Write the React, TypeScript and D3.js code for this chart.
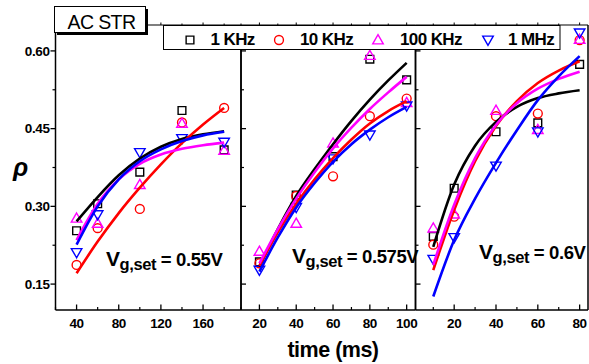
import React from "react";
import * as d3 from "d3";

// ---------- data ----------
const seriesNames = ["1 KHz", "10 KHz", "100 KHz", "1 MHz"];
const panelLabels = ["0.55V", "0.575V", "0.6V"];

// Vg,set = 0.55 V
const t055 = [40, 60, 100, 140, 180];
const p055_1k = [0.253, 0.305, 0.366, 0.485, 0.409];
const p055_10k = [0.187, 0.258, 0.295, 0.462, 0.49];
const p055_100k = [0.277, 0.267, 0.342, 0.46, 0.408];
const p055_1M = [0.211, 0.284, 0.404, 0.431, 0.424];
const fitT055 = [40, 60, 80, 100, 120, 140, 160, 180];
const fit055_1k = [0.271, 0.318, 0.36, 0.392, 0.415, 0.43, 0.439, 0.445];
const fit055_10k = [0.171, 0.232, 0.287, 0.336, 0.381, 0.422, 0.458, 0.49];
const fit055_100k = [0.235, 0.305, 0.352, 0.382, 0.4, 0.411, 0.418, 0.423];
const fit055_1M = [0.226, 0.3, 0.352, 0.387, 0.41, 0.426, 0.437, 0.444];

// Vg,set = 0.575 V
const t0575 = [20, 40, 60, 80, 100];
const p0575_1k = [0.193, 0.322, 0.396, 0.584, 0.544];
const p0575_10k = [0.19, 0.32, 0.358, 0.474, 0.508];
const p0575_100k = [0.213, 0.267, 0.422, 0.591, 0.5];
const p0575_1M = [0.177, 0.298, 0.392, 0.438, 0.494];
const fitT0575 = [20, 30, 40, 50, 60, 70, 80, 90, 100];
const fit0575_1k = [0.184, 0.256, 0.32, 0.372, 0.42, 0.465, 0.506, 0.543, 0.577];
const fit0575_10k = [0.185, 0.25, 0.305, 0.352, 0.393, 0.429, 0.46, 0.484, 0.503];
const fit0575_100k = [0.19, 0.256, 0.315, 0.366, 0.412, 0.452, 0.488, 0.52, 0.55];
const fit0575_1M = [0.174, 0.24, 0.298, 0.345, 0.386, 0.42, 0.448, 0.472, 0.492];

// Vg,set = 0.6 V
const t06 = [10, 20, 40, 60, 80];
const p06_1k = [0.242, 0.335, 0.444, 0.461, 0.574];
const p06_10k = [0.226, 0.28, 0.474, 0.479, 0.621];
const p06_100k = [0.258, 0.285, 0.485, 0.448, 0.622];
const p06_1M = [0.198, 0.24, 0.378, 0.444, 0.635];
const fitT06 = [10, 20, 30, 40, 50, 60, 70, 80];
const fit06_1k = [0.222, 0.342, 0.417, 0.463, 0.492, 0.509, 0.518, 0.524];
const fit06_10k = [0.177, 0.293, 0.387, 0.455, 0.503, 0.538, 0.562, 0.58];
const fit06_100k = [0.187, 0.303, 0.393, 0.457, 0.499, 0.527, 0.546, 0.56];
const fit06_1M = [0.126, 0.235, 0.315, 0.384, 0.447, 0.505, 0.551, 0.59];

const yTicks = [0.15, 0.3, 0.45, 0.6];
const xTicks055 = [40, 80, 120, 160];
const xTicks0575 = [20, 40, 60, 80, 100];
const xTicks06 = [20, 40, 60, 80];

// ---------- layout / style ----------
const W = 589;
const H = 364;
const yTop = 25;
const yBot = 310;
const colors = ["#000000", "#ff0000", "#ff00ff", "#0000ff"];
const FONT = "'Liberation Sans', Arial, sans-serif";

const panels = [
  {
    x0: 55.5, x1: 241, domain: [20, 196], ticks: xTicks055, minorStep: 20,
    t: t055, ys: [p055_1k, p055_10k, p055_100k, p055_1M],
    ft: fitT055, fits: [fit055_1k, fit055_10k, fit055_100k, fit055_1M],
    label: panelLabels[0], lx: 106, ly: 265.5, yLabels: true,
  },
  {
    x0: 241, x1: 415.5, domain: [10, 104.8], ticks: xTicks0575, minorStep: 10,
    t: t0575, ys: [p0575_1k, p0575_10k, p0575_100k, p0575_1M],
    ft: fitT0575, fits: [fit0575_1k, fit0575_10k, fit0575_100k, fit0575_1M],
    label: panelLabels[1], lx: 292, ly: 262.5, yLabels: false,
  },
  {
    x0: 415.5, x1: 588, domain: [1.5, 84], ticks: xTicks06, minorStep: 10,
    t: t06, ys: [p06_1k, p06_10k, p06_100k, p06_1M],
    ft: fitT06, fits: [fit06_1k, fit06_10k, fit06_100k, fit06_1M],
    label: panelLabels[2], lx: 479, ly: 258.5, yLabels: false,
  },
];

const y = d3.scaleLinear().domain([0.1, 0.65]).range([yBot, yTop]);
const yMinor = [0.225, 0.375, 0.525];
const fmt = d3.format(".2f");

function Marker({ kind, x, yv, color }: { kind: number; x: number; yv: number; color: string }) {
  const types = [d3.symbolSquare, d3.symbolCircle, d3.symbolTriangle, d3.symbolTriangle];
  const sizes = [60, 62, 48, 48];
  const path = d3.symbol().type(types[kind]).size(sizes[kind])() as string;
  const rot = kind === 3 ? 180 : 0;
  const dy = kind === 2 ? 0.8 : kind === 3 ? -0.8 : 0;
  return (
    <path
      d={path}
      transform={`translate(${x},${yv + dy}) rotate(${rot})`}
      fill="none"
      stroke={color}
      strokeWidth={1.4}
    />
  );
}

export default function App() {
  return (
    <svg
      width={W}
      height={H}
      style={{ position: "absolute", left: 0, top: 0, background: "#fff" }}
      fontFamily={FONT}
    >
      <rect x={0} y={0} width={W} height={H} fill="#fff" />
      {panels.map((p, pi) => {
        const x = d3.scaleLinear().domain(p.domain).range([p.x0, p.x1]);
        const minor = d3
          .range(Math.ceil(p.domain[0] / p.minorStep) * p.minorStep, p.domain[1], p.minorStep)
          .filter((v) => !p.ticks.includes(v));
        const line = d3
          .line<number>()
          .x((_, i) => x(p.ft[i]))
          .y((d) => y(d))
          .curve(d3.curveMonotoneX);
        return (
          <g key={pi}>
            {/* markers */}
            {p.ys.map((arr, si) =>
              arr.map((v, i) => (
                <Marker key={`${si}-${i}`} kind={si} x={x(p.t[i])} yv={y(v)} color={colors[si]} />
              ))
            )}
            {/* fits */}
            {p.fits.map((arr, si) => (
              <path key={si} d={line(arr) as string} fill="none" stroke={colors[si]} strokeWidth={2.6} />
            ))}
            {/* x axis ticks (inward) */}
            {p.ticks.map((v) => (
              <g key={`xt${v}`}>
                <line x1={x(v)} x2={x(v)} y1={yBot} y2={yBot - 5.5} stroke="#000" strokeWidth={1.3} />
                <line x1={x(v)} x2={x(v)} y1={yTop} y2={yTop - 2.5} stroke="#000" strokeWidth={1} />
                <text
                  x={x(v)}
                  y={328}
                  textAnchor="middle"
                  fontSize={13.5}
                  fontWeight="bold"
                  letterSpacing={-0.4}
                >
                  {v}
                </text>
              </g>
            ))}
            {minor.map((v) => (
              <g key={`xm${v}`}>
                <line x1={x(v)} x2={x(v)} y1={yBot} y2={yBot - 3} stroke="#000" strokeWidth={1.2} />
                <line x1={x(v)} x2={x(v)} y1={yTop} y2={yTop - 1.5} stroke="#000" strokeWidth={1} />
              </g>
            ))}
            {/* y ticks */}
            {yTicks.map((v) =>
              p.yLabels ? (
                <g key={`yt${v}`}>
                  <line x1={p.x0} x2={p.x0 - 5} y1={y(v)} y2={y(v)} stroke="#000" strokeWidth={1.3} />
                  <text
                    x={49.5}
                    y={y(v) + 4.8}
                    textAnchor="end"
                    fontSize={13.5}
                    fontWeight="bold"
                    letterSpacing={-0.4}
                  >
                    {fmt(v)}
                  </text>
                </g>
              ) : (
                <line key={`yt${v}`} x1={p.x0} x2={p.x0 + 5} y1={y(v)} y2={y(v)} stroke="#000" strokeWidth={1.3} />
              )
            )}
            {yMinor.map((v) =>
              p.yLabels ? (
                <line key={`ym${v}`} x1={p.x0} x2={p.x0 - 3} y1={y(v)} y2={y(v)} stroke="#000" strokeWidth={1.2} />
              ) : (
                <line key={`ym${v}`} x1={p.x0} x2={p.x0 + 3} y1={y(v)} y2={y(v)} stroke="#000" strokeWidth={1.2} />
              )
            )}
            {/* frame */}
            <line x1={p.x0} x2={p.x0} y1={yTop} y2={yBot} stroke="#000" strokeWidth={1.5} />
            <line x1={p.x1} x2={p.x1} y1={yTop} y2={yBot} stroke="#000" strokeWidth={1.5} />
            <line x1={p.x0} x2={p.x1} y1={yBot} y2={yBot} stroke="#000" strokeWidth={1.5} />
            <line x1={p.x0} x2={p.x1} y1={yTop} y2={yTop} stroke="#000" strokeWidth={1.2} />
            {/* panel label */}
            <text x={p.lx} y={p.ly} fontWeight="bold" letterSpacing={-0.4}>
              <tspan fontSize={21}>V</tspan>
              <tspan fontSize={16.5} dy={4.5}>g,set</tspan>
              <tspan fontSize={18.5} dy={-4.5}>{` = ${p.label}`}</tspan>
            </text>
          </g>
        );
      })}

      {/* AC STR box */}
      <rect x={57} y={9} width={91} height={26} fill="#000" />
      <rect x={54.5} y={6.5} width={91} height={26} fill="#fff" stroke="#000" strokeWidth={1} />
      <text x={67.5} y={28.5} fontSize={19.5} letterSpacing={-0.6}>
        AC STR
      </text>

      {/* legend */}
      <rect x={163.5} y={25.5} width={396.5} height={24} fill="#fff" stroke="#000" strokeWidth={1} />
      {seriesNames.map((name, i) => {
        const mx = [190, 279, 378, 488][i];
        const tx = [210.5, 300, 400, 508][i];
        return (
          <g key={name}>
            <Marker kind={i} x={mx} yv={40} color={colors[i]} />
            <text x={tx} y={45} fontSize={17} fontWeight="bold" letterSpacing={-0.6}>
              {name}
            </text>
          </g>
        );
      })}

      {/* axis titles */}
      <text x={13} y={176} fontSize={25} fontWeight="bold" fontStyle="italic">
        ρ
      </text>
      <text x={333} y={357} textAnchor="middle" fontSize={21.5} fontWeight="bold" letterSpacing={-0.5}>
        time (ms)
      </text>
    </svg>
  );
}
